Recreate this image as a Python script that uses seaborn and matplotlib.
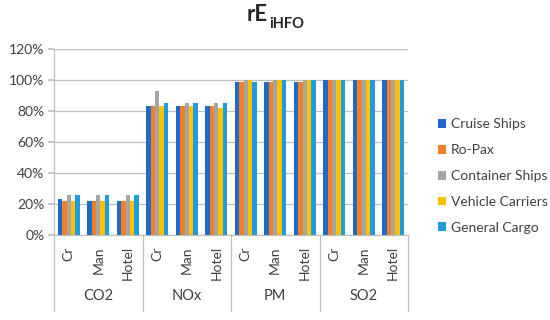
import matplotlib
matplotlib.use("Agg")
import matplotlib.pyplot as plt
import matplotlib.transforms as mtransforms
from matplotlib.patches import Patch
import seaborn as sns
import numpy as np
import pandas as pd

sns.set_theme(style="white")
plt.rcParams['font.family'] = ['Lato', 'DejaVu Sans']

# data (fraction of 1)
pollutants = ['CO2', 'NOx', 'PM', 'SO2']
modes = ['Cr', 'Man', 'Hotel']
ship_types = ['Cruise Ships', 'Ro-Pax', 'Container Ships', 'Vehicle Carriers', 'General Cargo']
colors = ['#1C6BC6', '#F47E2A', '#A5A5A5', '#FFC000', '#1F9CDF']

# rows follow pollutant x mode order: CO2 Cr, CO2 Man, CO2 Hotel, NOx Cr, ...
cruise = [0.23, 0.22, 0.22, 0.83, 0.83, 0.83, 0.99, 0.99, 0.99, 1.00, 1.00, 1.00]
ropax = [0.22, 0.22, 0.22, 0.83, 0.83, 0.83, 0.99, 0.99, 0.99, 1.00, 1.00, 1.00]
container = [0.26, 0.26, 0.26, 0.93, 0.85, 0.85, 1.00, 1.00, 1.00, 1.00, 1.00, 1.00]
vehicle = [0.22, 0.22, 0.22, 0.83, 0.83, 0.82, 1.00, 1.00, 1.00, 1.00, 1.00, 1.00]
general = [0.26, 0.26, 0.26, 0.85, 0.85, 0.85, 0.99, 1.00, 1.00, 1.00, 1.00, 1.00]

cats = [f"{p}|{m}" for p in pollutants for m in modes]
series = [cruise, ropax, container, vehicle, general]
df = pd.DataFrame({
    'cat': np.tile(cats, len(ship_types)),
    'ship': np.repeat(ship_types, len(cats)),
    'value': np.concatenate(series),
})

fig = plt.figure(figsize=(5.5, 3.2), dpi=100)
ax = fig.add_axes([54 / 550, 85 / 320, 354 / 550, 186 / 320])

sns.barplot(data=df, x='cat', y='value', hue='ship', order=cats,
            hue_order=ship_types, palette=colors, width=0.74,
            saturation=1, ax=ax, legend=False, zorder=3,
            linewidth=0, edgecolor='none')

ax.set_ylim(0, 1.2)
ax.set_xlim(-0.5, len(cats) - 0.5)
ax.set_yticks(np.arange(0, 1.21, 0.2))
ax.set_yticklabels([f"{int(round(v * 100))}%" for v in np.arange(0, 1.21, 0.2)],
                   fontsize=10, color='#404040')
ax.yaxis.grid(True, color='#BFBFBF', linewidth=0.9, zorder=0)
ax.tick_params(axis='y', length=4, color='#BFBFBF', pad=3, left=True)
ax.set_xlabel('')
ax.set_ylabel('')
ax.set_xticks([])
for s in ['top', 'right']:
    ax.spines[s].set_visible(False)
for s in ['left', 'bottom']:
    ax.spines[s].set_color('#BFBFBF')
    ax.spines[s].set_linewidth(0.9)

# category labels and group separators below the axis
trans = mtransforms.blended_transform_factory(ax.transData, ax.transAxes)
for i, c in enumerate(cats):
    ax.text(i, -0.06, c.split('|')[1], rotation=90, ha='center', va='top',
            fontsize=10, color='#404040', transform=trans)
for g in range(len(pollutants) + 1):
    xb = g * len(modes) - 0.5
    ax.plot([xb, xb], [0, -0.41], color='#BFBFBF', linewidth=0.9,
            transform=trans, clip_on=False)
for g, p in enumerate(pollutants):
    ax.text(g * len(modes) + 1, -0.33, p, ha='center', va='center',
            fontsize=10.5, color='#404040', transform=trans)

# title with subscript
fig.text(268 / 550, 1 - 21 / 320, 'rE', ha='right', va='baseline',
         fontsize=16, fontweight='bold', color='#262626')
fig.text(269 / 550, 1 - 28 / 320, 'iHFO', ha='left', va='baseline',
         fontsize=10.5, fontweight='bold', color='#262626')

handles = [Patch(facecolor=c, edgecolor='none', label=l) for c, l in zip(colors, ship_types)]
fig.legend(handles=handles, loc='center left', bbox_to_anchor=(425 / 550, 1 - 176 / 320),
           frameon=False, fontsize=10, handlelength=0.6, handleheight=0.6,
           handletextpad=0.35, labelspacing=1.0, labelcolor='#404040')

fig.savefig('out.png', dpi=100)
